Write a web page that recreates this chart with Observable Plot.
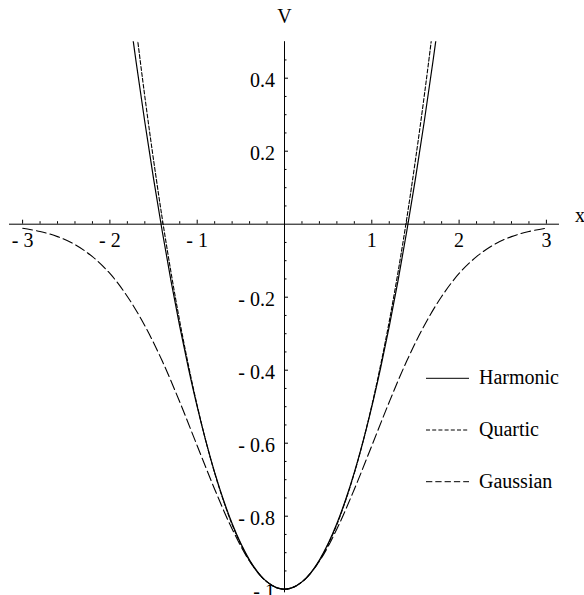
<!DOCTYPE html>
<html><head><meta charset="utf-8">
<script src="https://cdn.jsdelivr.net/npm/d3@7"></script>
<script src="https://cdn.jsdelivr.net/npm/@observablehq/plot@0.6"></script>
<style>
html,body{margin:0;padding:0;background:#fff;}
#chart{position:relative;width:584px;height:595px;overflow:hidden;background:#fff;}
#legend{position:absolute;left:0;top:0;}
</style></head><body><div id="chart"></div>
<script>
// Series names and their dash styles
const seriesNames = ["Harmonic", "Quartic", "Gaussian"];

// Harmonic and Quartic sampled from x = -1.8 .. 1.8
const centralX = [-1.8,-1.7,-1.6,-1.5,-1.4,-1.3,-1.2,-1.1,-1.0,-0.9,-0.8,-0.7,-0.6,-0.5,-0.4,-0.3,-0.2,-0.1,0,
                  0.1,0.2,0.3,0.4,0.5,0.6,0.7,0.8,0.9,1.0,1.1,1.2,1.3,1.4,1.5,1.6,1.7,1.8];
const harmonicV = [0.62,0.445,0.28,0.125,-0.02,-0.155,-0.28,-0.395,-0.5,-0.595,-0.68,-0.755,-0.82,-0.875,-0.92,-0.955,-0.98,-0.995,-1,
                   -0.995,-0.98,-0.955,-0.92,-0.875,-0.82,-0.755,-0.68,-0.595,-0.5,-0.395,-0.28,-0.155,-0.02,0.125,0.28,0.445,0.62];
const quarticV  = [0.743,0.539,0.350,0.176,0.015,-0.132,-0.266,-0.387,-0.497,-0.595,-0.682,-0.757,-0.823,-0.877,-0.922,-0.956,-0.980,-0.995,-1,
                   -0.995,-0.980,-0.956,-0.922,-0.877,-0.823,-0.757,-0.682,-0.595,-0.497,-0.387,-0.266,-0.132,0.015,0.176,0.350,0.539,0.743];

// Gaussian sampled from x = -3 .. 3
const gaussX = [-3,-2.8,-2.6,-2.4,-2.2,-2,-1.8,-1.6,-1.4,-1.2,-1,-0.8,-0.6,-0.4,-0.2,0,
                0.2,0.4,0.6,0.8,1,1.2,1.4,1.6,1.8,2,2.2,2.4,2.6,2.8,3];
const gaussV = [-0.011,-0.020,-0.034,-0.056,-0.089,-0.135,-0.198,-0.278,-0.375,-0.487,-0.607,-0.726,-0.835,-0.923,-0.980,-1,
                -0.980,-0.923,-0.835,-0.726,-0.607,-0.487,-0.375,-0.278,-0.198,-0.135,-0.089,-0.056,-0.034,-0.020,-0.011];

// Tick values and labels
const xTickValues = [-3,-2,-1,1,2,3];
const xTickLabels = ["- 3","- 2","- 1","1","2","3"];
const yTickValues = [-1,-0.8,-0.6,-0.4,-0.2,0.2,0.4];
const yTickLabels = ["- 1","- 0.8","- 0.6","- 0.4","- 0.2","0.2","0.4"];
const xMinorTicks = d3.range(-15, 16).filter(k => k % 5 !== 0).map(k => k / 5);
const yMinorTicks = d3.range(-20, 10).filter(k => k % 4 !== 0).map(k => k / 20);

const harmonicRows = centralX.map((x, i) => ({x, v: harmonicV[i]}));
const quarticRows = centralX.map((x, i) => ({x, v: quarticV[i]}));
const gaussRows = gaussX.map((x, i) => ({x, v: gaussV[i]}));

const dashes = {Harmonic: null, Quartic: "4,2", Gaussian: "10,4"};
const legendDashes = {Harmonic: null, Quartic: "4,2.2", Gaussian: "6.3,3"};

const font = "'Liberation Serif', 'Times New Roman', serif";

const chart = Plot.plot({
  width: 584, height: 595,
  marginLeft: 22.1, marginRight: 38.1, marginTop: 41.2, marginBottom: 2.65,
  x: {domain: [-3, 3], axis: null},
  y: {domain: [-1.01, 0.5], axis: null},
  style: {fontFamily: font, fontSize: "20px", background: "white", color: "black", overflow: "visible"},
  marks: [
    Plot.ruleY([0], {x1: -3.15, x2: 3.15, stroke: "black", strokeWidth: 1}),
    Plot.ruleX([0], {y1: -1.01, y2: 0.5, stroke: "black", strokeWidth: 1}),
    Plot.ruleX(xMinorTicks, {x: d => d, y1: 0, y2: 0, insetTop: -2.5, insetBottom: 0, stroke: "black"}),
    Plot.ruleX(xTickValues, {x: d => d, y1: 0, y2: 0, insetTop: -4, insetBottom: 0, stroke: "black"}),
    Plot.ruleY(yMinorTicks, {y: d => d, x1: 0, x2: 0, insetRight: -2.5, insetLeft: 0, stroke: "black"}),
    Plot.ruleY(yTickValues, {y: d => d, x1: 0, x2: 0, insetRight: -4, insetLeft: 0, stroke: "black"}),
    Plot.text(xTickValues, {x: d => d, y: 0, text: (d, i) => xTickLabels[i], dy: 16.7, fill: "black"}),
    Plot.text(yTickValues, {x: 0, y: d => d, text: (d, i) => yTickLabels[i], textAnchor: "end", dx: -9.5, dy: 2, fill: "black"}),
    Plot.text(["V"], {x: 0, y: 0.5, text: d => d, dy: -25, fill: "black"}),
    Plot.text(["x"], {x: 3.15, y: 0, text: d => d, dx: 20.5, dy: -9, fill: "black"}),
    Plot.line(gaussRows, {x: "x", y: "v", clip: true, curve: "catmull-rom", stroke: "black", strokeWidth: 1.1, strokeDasharray: dashes.Gaussian}),
    Plot.line(quarticRows, {x: "x", y: "v", clip: true, curve: "catmull-rom", stroke: "black", strokeWidth: 1.1, strokeDasharray: dashes.Quartic}),
    Plot.line(harmonicRows, {x: "x", y: "v", clip: true, curve: "catmull-rom", stroke: "black", strokeWidth: 1.2})
  ]
});

const holder = document.getElementById("chart");
holder.appendChild(chart);

// Legend overlay
const leg = d3.select(holder).append("svg")
  .attr("id", "legend").attr("width", 584).attr("height", 595);
seriesNames.forEach((name, i) => {
  const yLine = 378.3 + i * 51.7;
  leg.append("line")
    .attr("x1", 426).attr("x2", 469).attr("y1", yLine).attr("y2", yLine)
    .attr("stroke", "black").attr("stroke-width", 1)
    .attr("stroke-dasharray", legendDashes[name]);
  leg.append("text")
    .attr("x", 479).attr("y", yLine + 6)
    .attr("font-family", font).attr("font-size", 20)
    .attr("fill", "black")
    .text(name);
});
</script>
</body></html>
